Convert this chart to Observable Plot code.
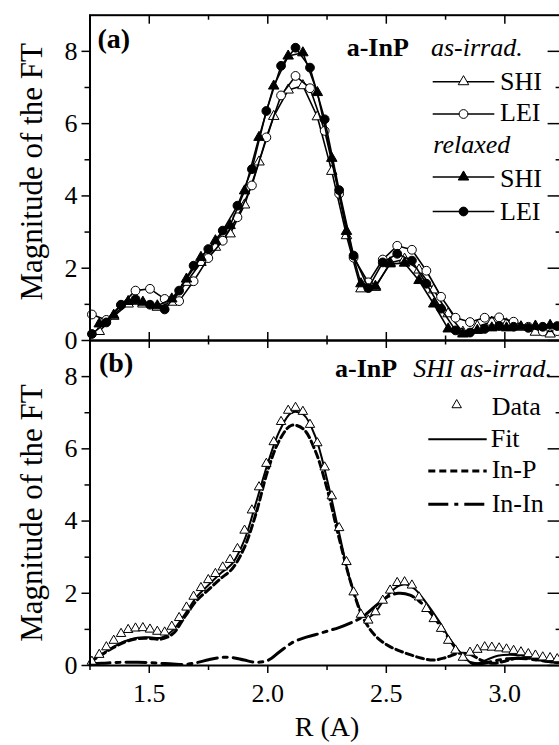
<!DOCTYPE html>
<html><head><meta charset="utf-8">
<script src="https://cdn.jsdelivr.net/npm/d3@7"></script>
<script src="https://cdn.jsdelivr.net/npm/@observablehq/plot@0.6"></script>
<style>
html,body{margin:0;padding:0;background:#fff;overflow:hidden;}
#chart{position:relative;width:559px;height:745px;overflow:hidden;background:#fff;}
#chart svg text{font-family:"Liberation Serif","Times New Roman",Tinos,"Nimbus Roman",Times,serif;}
</style></head><body><div id="chart"></div>
<script>
// ---------- data ----------
// panel (a): circles on odd grid points, triangles on even grid points
const rOdd = [1.258,1.319,1.381,1.442,1.503,1.565,1.626,1.687,1.749,1.810,1.872,1.933,1.994,2.056,2.117,2.178,2.240,2.301,2.362,2.424,2.485,2.546,2.608,2.669,2.731,2.792,2.853,2.915,2.976,3.037,3.099,3.160,3.221];
const rEven = [1.289,1.350,1.411,1.473,1.534,1.595,1.657,1.718,1.779,1.841,1.902,1.963,2.025,2.086,2.148,2.209,2.270,2.332,2.393,2.454,2.516,2.577,2.638,2.700,2.761,2.823,2.884,2.945,3.007,3.068,3.129,3.191,3.252];
const leiAsIrrad = [0.72,0.57,0.99,1.38,1.43,1.15,1.09,1.64,2.28,2.76,3.41,4.29,5.62,6.78,7.32,6.98,5.80,4.06,2.29,1.61,2.24,2.62,2.51,1.93,1.21,0.63,0.51,0.63,0.64,0.52,0.38,0.25,0.26];
const leiRelaxed = [0.18,0.50,0.98,1.14,0.99,0.86,1.38,2.07,2.53,3.04,3.73,4.74,6.35,7.60,8.10,7.55,6.12,4.16,2.35,1.45,2.16,2.40,2.21,1.57,0.88,0.28,0.22,0.32,0.40,0.38,0.35,0.38,0.40];
const shiAsIrrad = [0.25,0.67,1.01,1.01,0.92,1.06,1.61,2.16,2.58,2.95,3.75,4.94,6.20,6.93,7.05,6.19,4.68,2.90,1.43,1.47,2.15,2.25,1.95,1.40,0.74,0.23,0.39,0.51,0.46,0.37,0.23,0.18,0.20];
const shiRelaxed = [0.46,0.70,1.08,1.06,0.96,1.15,1.70,2.30,2.76,3.18,4.14,5.62,7.04,7.87,7.96,6.86,5.04,3.02,1.57,1.50,2.12,2.14,1.66,1.01,0.32,0.18,0.28,0.35,0.35,0.38,0.40,0.42,0.40];

// panel (b)
const rAll = [1.258,1.289,1.319,1.350,1.381,1.411,1.442,1.473,1.503,1.534,1.565,1.595,1.626,1.657,1.687,1.718,1.749,1.779,1.810,1.841,1.872,1.902,1.933,1.963,1.994,2.025,2.056,2.086,2.117,2.148,2.178,2.209,2.240,2.270,2.301,2.332,2.362,2.393,2.424,2.454,2.485,2.516,2.546,2.577,2.608,2.638,2.669,2.700,2.731,2.761,2.792,2.823,2.853,2.884,2.915,2.945,2.976,3.007,3.037,3.068,3.099,3.129,3.160,3.191,3.221,3.252];
const shiData = [0.11,0.30,0.51,0.69,0.88,0.99,1.03,1.04,1.00,0.94,0.92,1.08,1.32,1.61,1.91,2.15,2.37,2.54,2.72,2.93,3.23,3.74,4.30,4.94,5.59,6.19,6.75,7.06,7.14,7.03,6.67,6.16,5.49,4.69,3.81,2.87,2.03,1.41,1.25,1.48,1.80,2.08,2.29,2.31,2.22,1.89,1.57,1.29,1.02,0.69,0.42,0.22,0.36,0.44,0.51,0.50,0.48,0.45,0.41,0.37,0.32,0.28,0.23,0.21,0.18,0.17];
const fitR = [1.25,1.30,1.35,1.40,1.45,1.50,1.55,1.60,1.65,1.70,1.75,1.80,1.85,1.90,1.95,2.00,2.05,2.10,2.15,2.20,2.25,2.30,2.35,2.40,2.42,2.45,2.50,2.55,2.58,2.62,2.67,2.72,2.77,2.82,2.87,2.92,2.97,3.02,3.08,3.14,3.20,3.25];
const fitV = [0.12,0.32,0.52,0.68,0.77,0.78,0.77,0.98,1.42,1.90,2.23,2.55,2.82,3.45,4.50,5.60,6.50,7.00,6.95,6.35,5.15,3.70,2.30,1.42,1.32,1.45,1.90,2.20,2.25,2.12,1.72,1.25,0.72,0.30,0.03,0.15,0.27,0.30,0.27,0.20,0.12,0.08];
const inpR = [1.25,1.30,1.35,1.40,1.45,1.50,1.55,1.60,1.65,1.70,1.75,1.80,1.85,1.90,1.95,2.00,2.05,2.10,2.15,2.20,2.25,2.30,2.35,2.40,2.45,2.50,2.55,2.60,2.65,2.70,2.75,2.80,2.85,2.90,2.95,3.00,3.05,3.10,3.15,3.20,3.25];
const inpV = [0.10,0.30,0.50,0.66,0.74,0.75,0.73,0.88,1.35,1.80,2.10,2.40,2.68,3.25,4.20,5.40,6.25,6.65,6.55,5.95,4.90,3.55,2.30,1.35,0.85,0.58,0.42,0.30,0.20,0.15,0.22,0.33,0.32,0.15,0.06,0.12,0.20,0.20,0.15,0.10,0.07];
const ininR = [1.25,1.30,1.35,1.40,1.45,1.50,1.55,1.60,1.65,1.70,1.75,1.80,1.85,1.90,1.95,2.00,2.05,2.10,2.15,2.20,2.25,2.30,2.35,2.40,2.45,2.50,2.55,2.60,2.65,2.70,2.75,2.80,2.85,2.90,2.95,3.00,3.05,3.10,3.15,3.20,3.25];
const ininV = [0.05,0.06,0.08,0.09,0.09,0.08,0.06,0.04,0.03,0.08,0.16,0.22,0.22,0.15,0.09,0.14,0.38,0.62,0.76,0.85,0.95,1.05,1.18,1.35,1.62,1.88,2.00,1.95,1.72,1.35,0.88,0.42,0.10,0.05,0.12,0.18,0.20,0.18,0.14,0.10,0.08];

// axes
const yMajor = [0,2,4,6,8];
const yMinor = [1,3,5,7];
const xMajor = [1.5,2.0,2.5,3.0];
const xMinor = [1.25,1.75,2.25,2.75,3.25];
const xDomain = [1.25,3.25];
const yDomain = [0,9];

// ---------- layout ----------
const W = 570, H = 745;
const LEFT = 89.5, RIGHT = 563.6;
const A_TOP = 14.7, MID = 340, B_BOT = 665;
const plotW = RIGHT - LEFT;
const plotHA = MID - A_TOP, plotHB = B_BOT - MID;

const pts = (xs, ys) => xs.map((x, i) => ({r: x, v: ys[i]}));

const svgStyle = `background: transparent; overflow: visible; max-width: none; position: absolute; left: 0px; top: 0px; font-size: 26px; color: black;`;

function yAxisMarks() {
  return [
    Plot.axisY(yMajor, {tickSize: 8, tickPadding: 4.5, fontSize: 26, strokeWidth: 1.5, label: null}),
    Plot.axisY(yMinor, {tickSize: 5, tickFormat: () => "", strokeWidth: 1.5, label: null}),
    Plot.tickY(yMajor, {y: d => d, insetLeft: plotW - 16, stroke: "black", strokeWidth: 1.5}),
    Plot.tickY(yMinor, {y: d => d, insetLeft: plotW - 8, stroke: "black", strokeWidth: 1.5})
  ];
}

function seriesA(xs, ys, symbol, fill, r) {
  const d = pts(xs, ys);
  return [
    Plot.line(d, {x: "r", y: "v", stroke: "black", strokeWidth: 1.6}),
    Plot.dot(d, {x: "r", y: "v", symbol, r, fill, stroke: "black", strokeWidth: 1})
  ];
}

const titleOpts = {frameAnchor: "left", dx: -57.5, rotate: -90, textAnchor: "middle", lineAnchor: "middle", fontSize: 31, fill: "black"};

// ---------- panel (a) ----------
const svgA = Plot.plot({
  width: W, height: H,
  marginLeft: LEFT, marginRight: W - RIGHT, marginTop: A_TOP, marginBottom: H - MID,
  x: {domain: xDomain, axis: null},
  y: {domain: yDomain},
  style: svgStyle,
  marks: [
    ...yAxisMarks(),
    Plot.tickX(xMajor, {x: d => d, insetBottom: plotHA - 9, stroke: "black", strokeWidth: 1.5}),
    Plot.tickX(xMinor, {x: d => d, insetBottom: plotHA - 5, stroke: "black", strokeWidth: 1.5}),
    Plot.tickX(xMajor, {x: d => d, insetTop: plotHA - 8, stroke: "black", strokeWidth: 1.5}),
    Plot.tickX(xMinor, {x: d => d, insetTop: plotHA - 4.5, stroke: "black", strokeWidth: 1.5}),
    ...seriesA(rEven, shiAsIrrad, "triangle", "white", 3.9),
    ...seriesA(rOdd, leiAsIrrad, "circle", "white", 4.4),
    ...seriesA(rEven, shiRelaxed, "triangle", "black", 3.9),
    ...seriesA(rOdd, leiRelaxed, "circle", "black", 4.4),
    Plot.frame({stroke: "black", strokeWidth: 2}),
    Plot.text(["(a)"], {frameAnchor: "top-left", dx: 7.5, dy: 23.5, textAnchor: "start", lineAnchor: "middle", fontWeight: "bold", fontSize: 28, fill: "black"}),
    Plot.text(["Magnitude of the FT"], {...titleOpts, dy: -6})
  ]
});

// ---------- panel (b) ----------
const svgB = Plot.plot({
  width: W, height: H,
  marginLeft: LEFT, marginRight: W - RIGHT, marginTop: MID, marginBottom: H - B_BOT,
  x: {domain: xDomain},
  y: {domain: yDomain},
  style: svgStyle,
  marks: [
    ...yAxisMarks(),
    Plot.tickX(xMajor, {x: d => d, insetBottom: plotHB - 8, stroke: "black", strokeWidth: 1.5}),
    Plot.tickX(xMinor, {x: d => d, insetBottom: plotHB - 4.5, stroke: "black", strokeWidth: 1.5}),
    Plot.axisX(xMajor, {tickSize: 8, tickPadding: 10, tickFormat: d3.format(".1f"), fontSize: 26, strokeWidth: 1.5, label: null}),
    Plot.axisX(xMinor, {tickSize: 5, tickFormat: () => "", strokeWidth: 1.5, label: null}),
    Plot.line(pts(ininR, ininV), {x: "r", y: "v", curve: "catmull-rom", stroke: "black", strokeWidth: 3, strokeDasharray: "20,6,4,6"}),
    Plot.line(pts(inpR, inpV), {x: "r", y: "v", curve: "catmull-rom", stroke: "black", strokeWidth: 3, strokeDasharray: "7,4"}),
    Plot.line(pts(fitR, fitV), {x: "r", y: "v", curve: "catmull-rom", stroke: "black", strokeWidth: 2}),
    Plot.dot(pts(rAll, shiData), {x: "r", y: "v", symbol: "triangle", r: 3.5, fill: "white", stroke: "black", strokeWidth: 1}),
    Plot.frame({stroke: "black", strokeWidth: 2}),
    Plot.text(["(b)"], {frameAnchor: "top-left", dx: 9, dy: 23, textAnchor: "start", lineAnchor: "middle", fontWeight: "bold", fontSize: 28, fill: "black"}),
    Plot.text(["Magnitude of the FT"], {...titleOpts, dy: 10}),
    Plot.text(["R (A)"], {frameAnchor: "bottom", dy: 62, textAnchor: "middle", lineAnchor: "middle", fontSize: 28, fill: "black"})
  ]
});

// ---------- legends ----------
function txt(g, x, y, s, opts = {}) {
  const t = g.append("text").attr("x", x).attr("y", y).attr("text-anchor", "start").text(s);
  if (opts.weight) t.attr("font-weight", opts.weight);
  if (opts.style) t.attr("font-style", opts.style);
}
function sym(g, x, y, type, r, fill) {
  if (type === "circle") {
    g.append("circle").attr("cx", x).attr("cy", y).attr("r", r).attr("fill", fill).attr("stroke", "black").attr("stroke-width", 1);
  } else {
    g.append("path").attr("d", d3.symbol(d3.symbolTriangle, Math.PI * r * r)()).attr("transform", `translate(${x},${y})`)
      .attr("fill", fill).attr("stroke", "black").attr("stroke-width", 1);
  }
}
function seg(g, x1, x2, y, w, dash) {
  const l = g.append("line").attr("x1", x1).attr("x2", x2).attr("y1", y).attr("y2", y)
    .attr("stroke", "black").attr("stroke-width", w);
  if (dash) l.attr("stroke-dasharray", dash);
}

{
  const g = d3.select(svgA).append("g").attr("font-size", 26).attr("fill", "black").attr("text-anchor", "start");
  txt(g, 346.7, 55.7, "a-InP", {weight: "bold"});
  txt(g, 431, 55.7, "as-irrad.", {style: "italic"});
  txt(g, 433.3, 153.3, "relaxed", {style: "italic"});
  const rows = [
    {y: 81.7, b: 89.5, type: "triangle", fill: "white", label: "SHI"},
    {y: 114, b: 121, type: "circle", fill: "white", label: "LEI"},
    {y: 177, b: 186.7, type: "triangle", fill: "black", label: "SHI"},
    {y: 211.5, b: 220, type: "circle", fill: "black", label: "LEI"}
  ];
  for (const row of rows) {
    seg(g, 432.7, 494.3, row.y, 1.6);
    sym(g, 463.5, row.y, row.type, row.type === "circle" ? 4.4 : 3.9, row.fill);
    txt(g, 500, row.b, row.label);
  }
}
{
  const g = d3.select(svgB).append("g").attr("font-size", 26).attr("fill", "black").attr("text-anchor", "start");
  txt(g, 335, 376.7, "a-InP", {weight: "bold"});
  txt(g, 413.3, 376.7, "SHI as-irrad.", {style: "italic"});
  sym(g, 456.7, 405, "triangle", 3.5, "white");
  txt(g, 491.7, 415, "Data");
  seg(g, 428.3, 486.7, 439.3, 2);
  txt(g, 490.7, 446.7, "Fit");
  seg(g, 428.3, 486.7, 471, 3, "7,4");
  txt(g, 491.7, 478.3, "In-P");
  seg(g, 428.3, 486.7, 504.3, 3, "20,6,4,6");
  txt(g, 491.7, 511.7, "In-In");
}

const chart = document.getElementById("chart");
chart.appendChild(svgA);
chart.appendChild(svgB);
</script>
</body></html>
